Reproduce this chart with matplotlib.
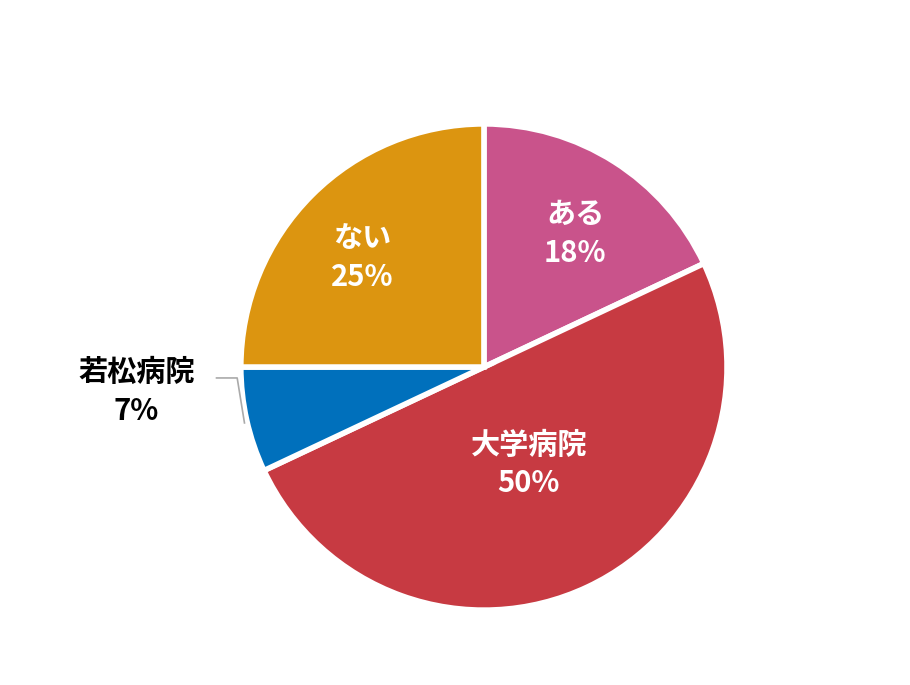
import matplotlib
matplotlib.use("Agg")
import matplotlib.pyplot as plt

labels = ["ある", "大学病院", "若松病院", "ない"]
values = [18, 50, 7, 25]
colors = ["#C9538B", "#C73A42", "#0070BC", "#DC9510"]

plt.rcParams['font.family'] = ['Noto Sans CJK JP', 'DejaVu Sans']

fig = plt.figure(figsize=(9.1, 6.85), dpi=100)
ax = fig.add_axes([0.2593, 0.1022, 0.545, 0.724])
ax.pie(values, colors=colors, startangle=90, counterclock=False, radius=1.0,
       wedgeprops=dict(edgecolor="white", linewidth=4))
ax.set_xlim(-1.02, 1.02)
ax.set_ylim(-1.02, 1.02)
ax.set_aspect('equal')

pos = [(0.375, 0.55), (0.185, -0.40), None, (-0.50, 0.45)]
for lab, v, p in zip(labels, values, pos):
    if p is None:
        continue
    ax.text(p[0], p[1], f"{lab}\n{v}%", ha="center", va="center", color="white",
            fontsize=21, fontweight="bold", linespacing=1.35)

ax.text(-1.43, -0.10, f"{labels[2]}\n{values[2]}%", ha="center", va="center", color="black",
        fontsize=21, fontweight="bold", linespacing=1.35, clip_on=False)
ax.plot([-1.10, -1.015, -0.985], [-0.045, -0.045, -0.23], color="#AAAAAA", lw=1.2, clip_on=False)

fig.savefig("out.png", dpi=100)
